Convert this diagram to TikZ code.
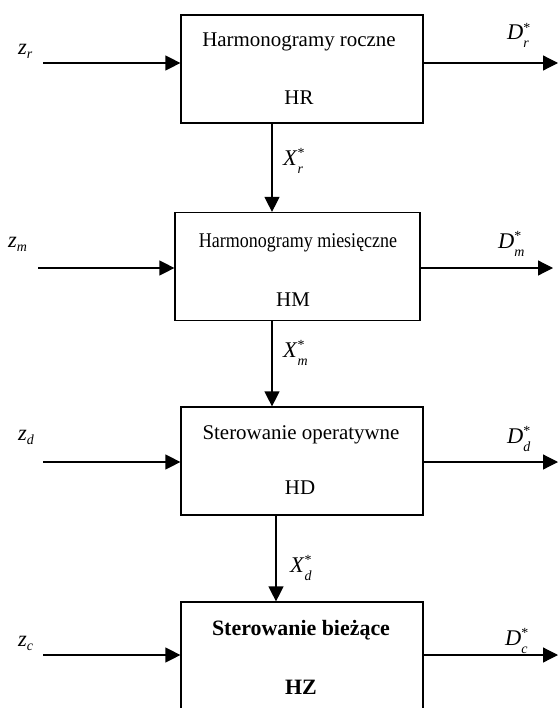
\documentclass[tikz,border=0pt]{standalone}
\usepackage{fontspec}
\setmainfont{Liberation Serif}
\usetikzlibrary{arrows.meta,positioning}

% etykiety sygnalow
\newcommand{\zsig}[1]{\textit{z}\raisebox{-4bp}{\fontsize{14}{14}\selectfont\textit{#1}}}
\newcommand{\gsig}[2]{\textit{#1}\rlap{\raisebox{7.5bp}{\fontsize{14}{14}\selectfont *}}\raisebox{-8bp}{\fontsize{14}{14}\selectfont\textit{#2}}}

\begin{document}
\begin{tikzpicture}[x=1bp,y=-1bp,>={Triangle[length=15bp,width=15bp]},
  blok/.style={draw,line width=1.2bp,rectangle,minimum width=242bp,minimum height=108bp,inner sep=0pt},
  tytul/.style={font=\fontsize{21}{24}\selectfont,inner sep=0pt},
  sygnal/.style={font=\fontsize{22.5}{24}\selectfont,inner sep=0pt,anchor=base west},
  strz/.style={->,line width=1.2bp}]
\useasboundingbox (0,0) rectangle (558,708);
\clip (0,0) rectangle (558,708);
% bloki
\node[blok] (hr) at (302,69) {};
\node[blok,minimum width=245bp] (hm) at (297.5,266.5) {};
\node[blok] (hd) at (302,461) {};
\node[blok] (hz) at (302,656) {};
% opisy blokow
\node[tytul] (hrt) at (299,42) {Harmonogramy roczne};
\node[tytul] (hrk) at (299,98) {HR};
\node[tytul] (hmt) at (298,243) {\scalebox{0.86}[1]{Harmonogramy miesięczne}};
\node[tytul] (hmk) at (293,300) {HM};
\node[tytul] (hdt) at (301,435) {Sterowanie operatywne};
\node[tytul] (hdk) at (300,488) {HD};
\node[tytul,font=\fontsize{22}{24}\selectfont\bfseries] (hzt) at (301,630) {Sterowanie bieżące};
\node[tytul,font=\fontsize{22}{24}\selectfont\bfseries] (hzk) at (301,687) {HZ};
% wejscia i wyjscia
\coordinate (zr0) at (43,63);
\coordinate (zm0) at (38,268);
\coordinate (zd0) at (43,462);
\coordinate (zc0) at (43,655);
\coordinate (dr1) at (558,63);
\coordinate (dm1) at (553,268);
\coordinate (dd1) at (558,462);
\coordinate (dc1) at (558,655);
\draw[strz] (zr0) -- (zr0 -| hr.west);
\draw[strz] (zm0) -- (zm0 -| hm.west);
\draw[strz] (zd0) -- (zd0 -| hd.west);
\draw[strz] (zc0) -- (zc0 -| hz.west);
\draw[strz] (dr1 -| hr.east) -- (dr1);
\draw[strz] (dm1 -| hm.east) -- (dm1);
\draw[strz] (dd1 -| hd.east) -- (dd1);
\draw[strz] (dc1 -| hz.east) -- (dc1);
% polaczenia pionowe
\draw[strz] (272,0 |- hr.south) -- (272,0 |- hm.north);
\draw[strz] (272,0 |- hm.south) -- (272,0 |- hd.north);
\draw[strz] (276,0 |- hd.south) -- (276,0 |- hz.north);
% etykiety
\node[sygnal] (lzr) at (18,55) {\zsig{r}};
\node[sygnal] (lzm) at (8,247) {\zsig{m}};
\node[sygnal] (lzd) at (18,440) {\zsig{d}};
\node[sygnal] (lzc) at (18,646) {\zsig{c}};
\node[sygnal] (ldr) at (507,40) {\gsig{D}{r}};
\node[sygnal] (ldm) at (498,248) {\gsig{D}{m}};
\node[sygnal] (ldd) at (507,443) {\gsig{D}{d}};
\node[sygnal] (ldc) at (505,645) {\gsig{D}{c}};
\node[sygnal] (lxr) at (283,165) {\gsig{X}{r}};
\node[sygnal] (lxm) at (283,357) {\gsig{X}{m}};
\node[sygnal] (lxd) at (290,572) {\gsig{X}{d}};
\end{tikzpicture}
\end{document}
